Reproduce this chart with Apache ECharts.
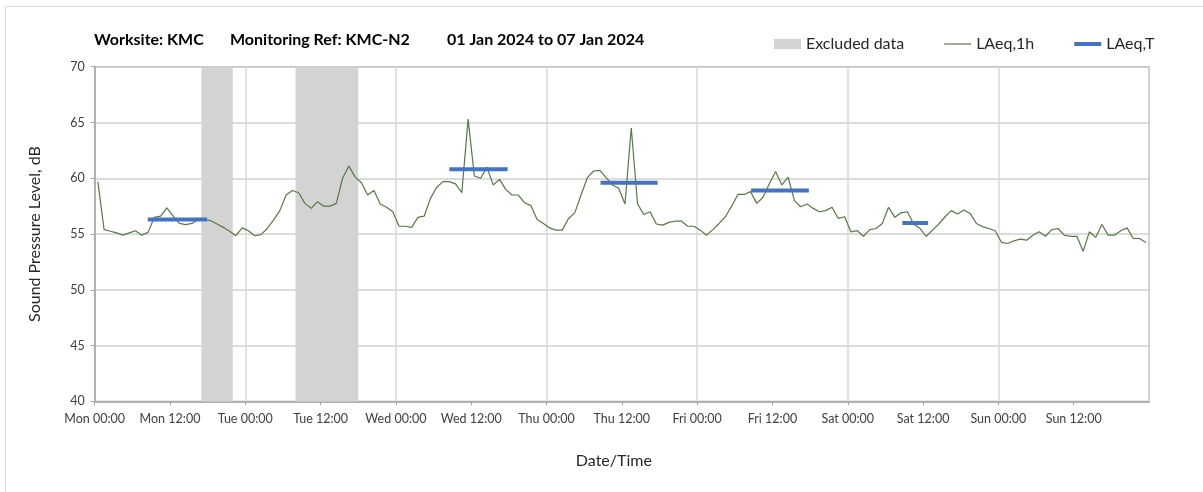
<!DOCTYPE html>
<html>
<head>
<meta charset="utf-8">
<script src="https://cdn.jsdelivr.net/npm/echarts@6/dist/echarts.min.js"></script>
<style>html,body{margin:0;padding:0;background:#fff}#c{width:1203px;height:492px}</style>
</head>
<body>
<div id="c"></div>
<script>
// Hourly LAeq,1h values (hour index 0 = Mon 00:00-01:00, plotted at mid-hour)
const laeq1h = [
59.7,55.4,55.25,55.1,54.9,55.1,55.3,54.9,55.15,56.5,56.6,57.35,56.6,55.95,55.85,55.95,56.3,56.3,56.2,55.9,55.6,55.25,54.85,55.55,
55.3,54.85,54.95,55.5,56.25,57.1,58.5,58.9,58.7,57.75,57.3,57.9,57.5,57.5,57.75,60.0,61.1,60.1,59.6,58.5,58.9,57.7,57.4,57.0,
55.7,55.7,55.6,56.5,56.6,58.2,59.2,59.7,59.7,59.5,58.7,65.3,60.2,60.0,61.0,59.4,59.9,59.0,58.5,58.5,57.8,57.55,56.3,55.95,
55.55,55.35,55.35,56.4,56.9,58.5,60.05,60.65,60.7,60.05,59.4,59.1,57.7,64.5,57.7,56.75,57.0,55.9,55.8,56.05,56.15,56.15,55.7,55.7,
55.35,54.9,55.4,55.95,56.55,57.5,58.55,58.55,58.8,57.75,58.3,59.5,60.6,59.4,60.1,58.0,57.45,57.7,57.3,57.0,57.1,57.4,56.4,56.55,
55.2,55.3,54.8,55.4,55.5,55.95,57.4,56.5,56.9,57.0,55.9,55.5,54.8,55.35,55.9,56.55,57.1,56.8,57.15,56.85,55.95,55.65,55.5,55.3,
54.25,54.15,54.4,54.55,54.45,54.9,55.2,54.8,55.4,55.5,54.9,54.8,54.8,53.45,55.2,54.7,55.85,54.9,54.9,55.3,55.55,54.6,54.6,54.25
];
// LAeq,T periods (hours from Mon 00:00)
const periodStart = [8.45, 56.5, 80.6, 104.6, 128.7];
const periodEnd   = [17.9, 65.8, 89.7, 113.8, 132.8];
const periodValue = [56.3, 60.8, 59.6, 58.9, 56.0];
// Excluded data periods (hours from Mon 00:00)
const excludedStart = [17, 32];
const excludedEnd   = [22, 42];
const dayNames = ['Mon','Tue','Wed','Thu','Fri','Sat','Sun'];
const yTicks = [40,45,50,55,60,65,70];

const lineData = laeq1h.map((v,i)=>[i+0.5, v]);
const segData = [];
periodStart.forEach((s,i)=>{ segData.push([s,periodValue[i]]); segData.push([periodEnd[i],periodValue[i]]); segData.push(null); });
const areas = excludedStart.map((s,i)=>[{xAxis:s},{xAxis:excludedEnd[i]}]);

const FONT = 'Lato';
const TSTYLE = {fontFamily:FONT,fontSize:16,fontWeight:'bold',color:'#000'};
const chart = echarts.init(document.getElementById('c'), null, {renderer:'canvas'});
chart.setOption({
  animation:false,
  backgroundColor:'#fff',
  textStyle:{fontFamily:FONT},
  graphic:[{type:'rect', shape:{x:5.5,y:6.5,width:1400,height:700}, style:{fill:'none',stroke:'#d9d9d9',lineWidth:1}, silent:true}],
  title:[
    {text:'Worksite: KMC', left:94, top:32, padding:0, textStyle:TSTYLE},
    {text:'Monitoring Ref: KMC-N2', left:230, top:32, padding:0, textStyle:TSTYLE},
    {text:'01 Jan 2024 to 07 Jan 2024', left:447, top:32, padding:0, textStyle:TSTYLE}
  ],
  legend:{
    left:774, top:36, padding:0, itemWidth:27, itemHeight:10, itemGap:40,
    textStyle:{fontFamily:FONT,fontSize:16,color:'#262626'},
    data:[
      {name:'Excluded data', icon:'rect', itemStyle:{color:'#d3d3d3'}},
      {name:'LAeq,1h', icon:'path://M0,0 L27,0 L27,1.2 L0,1.2 Z', itemStyle:{color:'#557a43'}},
      {name:'LAeq,T', icon:'path://M0,0 L27,0 L27,4 L0,4 Z', itemStyle:{color:'#4472c4'}}
    ]
  },
  grid:{left:94.7, right:54, top:66.7, bottom:90.6, show:true, borderColor:'#a6a6a6', borderWidth:1.5, backgroundColor:'transparent'},
  xAxis:[
    {type:'value', min:0, max:168, interval:12,
     name:'Date/Time', nameLocation:'middle', nameGap:51,
     nameTextStyle:{fontFamily:FONT,fontSize:16,color:'#262626',padding:[0,16,0,0]},
     axisLine:{show:true,lineStyle:{color:'#a6a6a6',width:1.5}},
     axisTick:{show:true,length:4,lineStyle:{color:'#a6a6a6'}},
     splitLine:{show:false},
     axisLabel:{margin:11,fontFamily:FONT,fontSize:12.5,color:'#404040',showMaxLabel:false,
       formatter:(v)=>{ if(v>=168) return ''; const d=Math.floor(v/24); return dayNames[d]+' '+(v%24===0?'00:00':'12:00'); }}
    },
    {type:'value', min:0, max:168, interval:24, position:'bottom',
     axisLine:{show:false}, axisTick:{show:false}, axisLabel:{show:false},
     splitLine:{show:true,lineStyle:{color:'#d9d9d9',width:1.5}}
    }
  ],
  yAxis:{type:'value', min:40, max:70, interval:5,
    name:'Sound Pressure Level, dB', nameLocation:'middle', nameGap:52,
    nameTextStyle:{fontFamily:FONT,fontSize:16,color:'#262626'},
    axisLine:{show:true,lineStyle:{color:'#a6a6a6',width:1.5}},
    axisTick:{show:true,length:4,lineStyle:{color:'#a6a6a6'}},
    splitLine:{show:true,lineStyle:{color:'#d0d0d0',width:1.5}},
    axisLabel:{margin:10,fontFamily:FONT,fontSize:12.5,color:'#404040',
      formatter:(v)=> yTicks.indexOf(v)>=0 ? String(v) : ''}
  },
  series:[
    {name:'Excluded data', type:'line', data:[], xAxisIndex:0, symbol:'none',
     itemStyle:{color:'#d3d3d3'},
     markArea:{silent:true, itemStyle:{color:'#d3d3d3'}, data:areas}},
    {name:'LAeq,1h', type:'line', data:lineData, xAxisIndex:0, symbol:'none', z:3,
     itemStyle:{color:'#557a43'}, lineStyle:{color:'#557a43',width:1.2}},
    {name:'LAeq,T', type:'line', data:segData, xAxisIndex:0, symbol:'none', connectNulls:false, z:4,
     itemStyle:{color:'#4472c4'}, lineStyle:{color:'#4472c4',width:4,cap:'butt'}}
  ]
});
</script>
</body>
</html>
